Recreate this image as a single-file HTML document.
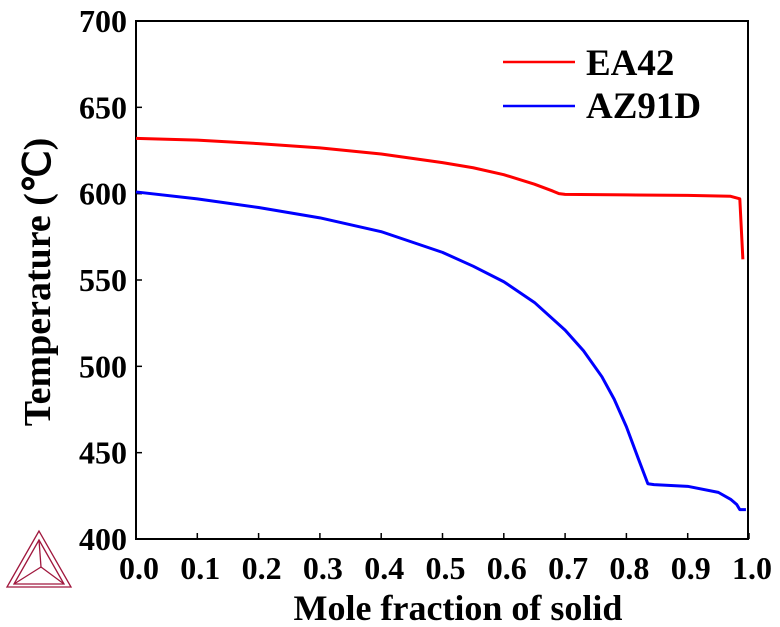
<!DOCTYPE html>
<html><head><meta charset="utf-8"><style>
body{margin:0;background:#fff}
svg{display:block;font-family:"Liberation Serif",serif;font-weight:bold}
</style></head><body>
<svg id="c" width="780" height="627" viewBox="0 0 780 627">
<g stroke="#a0173d" stroke-width="1.3" fill="none">
<polygon points="39,531 7,587 71,587"/>
<polygon points="39,540 14,584 64,584"/>
<line x1="39" y1="540" x2="41" y2="567"/><line x1="41" y1="567" x2="14" y2="584"/><line x1="41" y1="567" x2="64" y2="584"/>
</g>
<rect x="136" y="21" width="612" height="518" fill="none" stroke="#000" stroke-width="2"/>
<g id="ax"></g>
<g id="series"></g>
<g>
<line x1="503" y1="62" x2="575" y2="62" stroke="#f00" stroke-width="2.5"/>
<text x="586" y="75" font-size="37">EA42</text>
<line x1="503" y1="106" x2="575" y2="106" stroke="#00f" stroke-width="2.5"/>
<text x="586" y="118" font-size="37">AZ91D</text>
</g>
<text x="458" y="620" font-size="36" text-anchor="middle">Mole fraction of solid</text>
<text transform="translate(50,282) rotate(-90)" font-size="38" text-anchor="middle">Temperature (℃)</text>
</svg>
<script>
const xTicks=[0,0.1,0.2,0.3,0.4,0.5,0.6,0.7,0.8,0.9,1.0];
const yTicks=[400,450,500,550,600,650,700];
const ea42X=[0,0.1,0.2,0.3,0.4,0.5,0.55,0.6,0.65,0.68,0.69,0.7,0.8,0.9,0.97,0.985,0.99];
const ea42Y=[632,631,629,626.5,623,618,615,611,605.5,601.5,600,599.6,599.3,599,598.5,597,562];
const azX=[0,0.1,0.2,0.3,0.4,0.5,0.55,0.6,0.65,0.7,0.73,0.76,0.78,0.8,0.82,0.835,0.845,0.9,0.95,0.97,0.98,0.985,0.995];
const azY=[601,597,592,586,578,566,558,549,537,521,509,494,481,465,446,432,431.5,430.5,427,423,420,417,417];
const sx=v=>136+v*613, sy=v=>539-(v-400)*518/300;
const NS="http://www.w3.org/2000/svg";
const ax=document.getElementById('ax'), sg=document.getElementById('series');
function mk(t,a,p){const e=document.createElementNS(NS,t);for(const k in a)e.setAttribute(k,a[k]);p.appendChild(e);return e;}
xTicks.forEach(v=>{
 const l=mk('line',{x1:sx(v),x2:sx(v),y1:539,y2:533,stroke:'#000','stroke-width':1.5},ax);
 
 
 const t=mk('text',{x:sx(v)+3,y:579,'font-size':32,'text-anchor':'middle'},ax);t.textContent=v.toFixed(1);
 
 
});
yTicks.forEach(v=>{
 const l=mk('line',{x1:136,x2:142,y1:sy(v),y2:sy(v),stroke:'#000','stroke-width':1.5},ax);
 
 
 const t=mk('text',{x:127,y:sy(v)+11,'font-size':32,'text-anchor':'end'},ax);t.textContent=v;
 
 
});
function line(X,Y,c,n){
 const p=mk('path',{d:X.map((x,i)=>(i?'L':'M')+sx(x)+','+sy(Y[i])).join(''),fill:'none',stroke:c,'stroke-width':3,'stroke-linejoin':'round'},sg);
 
 
}
line(ea42X,ea42Y,'#f00','line-ea42');
line(azX,azY,'#00f','line-az91d');
</script>
</body></html>
